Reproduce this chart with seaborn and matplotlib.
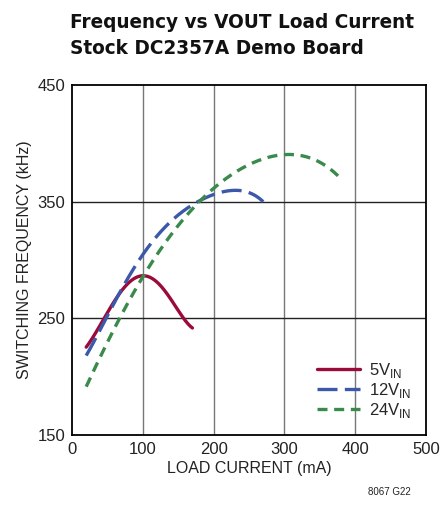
import numpy as np
import pandas as pd
import matplotlib
matplotlib.use("Agg")
import matplotlib.pyplot as plt
import seaborn as sns

# data
i_5v = [20, 40, 60, 80, 100, 110, 120, 130, 140, 150, 160, 170]
f_5v = [225, 245, 264, 280, 287, 286, 281, 273, 265, 257, 249, 241]

i_12v = [20, 50, 75, 100, 125, 150, 175, 200, 225, 250, 270]
f_12v = [218, 252, 280, 305, 324, 338, 349, 356, 360, 357, 350]

i_24v = [20, 50, 75, 100, 125, 150, 175, 200, 225, 250, 275, 300, 325, 350, 380]
f_24v = [192, 228, 258, 287, 310, 330, 346, 360, 372, 382, 389, 391, 389, 382, 370]

x_ticks = [0, 100, 200, 300, 400, 500]
y_ticks = [150, 250, 350, 450]

sns.set_theme(style="white")
plt.rcParams['font.family'] = ['Liberation Sans', 'DejaVu Sans']


def smooth(x, y, n=200):
    # 平滑曲線 (只影響線條外觀)
    x = np.asarray(x, float)
    y = np.asarray(y, float)
    c = np.polyfit(x, y, min(5, len(x) - 1))
    xs = np.linspace(x[0], x[-1], n)
    return xs, np.polyval(c, xs)


fig = plt.figure(figsize=(4.42, 5.08), dpi=100)
ax = fig.add_axes([0.163, 0.144, 0.801, 0.689])

series = [
    (i_5v, f_5v, '5V$_{\\mathregular{IN}}$', '#9a0b3c', None),
    (i_12v, f_12v, '12V$_{\\mathregular{IN}}$', '#3b59a8', (6, 2.2)),
    (i_24v, f_24v, '24V$_{\\mathregular{IN}}$', '#3a8a4c', (3, 2)),
]
for x, y, lab, col, dash in series:
    xs, ys = smooth(x, y)
    df = pd.DataFrame({'x': xs, 'y': ys})
    sns.lineplot(data=df, x='x', y='y', ax=ax, color=col, lw=2.4, label=lab)
    if dash is not None:
        ax.lines[-1].set_dashes(dash)

ax.set_xlim(0, 500)
ax.set_ylim(150, 450)
ax.set_xticks(x_ticks)
ax.set_yticks(y_ticks)
for v in [100, 200, 300, 400]:
    ax.axvline(v, color='#777777', lw=1.0, zorder=0)
for v in [250, 350]:
    ax.axhline(v, color='#222222', lw=1.0, zorder=0)
for s in ax.spines.values():
    s.set_color('black')
    s.set_linewidth(1.3)
ax.tick_params(axis='both', labelsize=12, length=0, pad=5, colors='#222222')
ax.set_xlabel('LOAD CURRENT (mA)', fontsize=11.5, color='#222222', labelpad=3)
ax.set_ylabel('SWITCHING FREQUENCY (kHz)', fontsize=11.5, color='#222222', labelpad=4)

ax.legend(loc='lower right', frameon=False, fontsize=12, handlelength=2.6,
          handletextpad=0.5, labelspacing=0.05, bbox_to_anchor=(1.0, 0.0))

# 標題: 字級縮到參考圖的寬度 (約 345 px)
title_kw = dict(fontweight='bold', family=['DejaVu Sans'], va='center', color='#111111')
t1 = fig.text(0.158, 0.955, 'Frequency vs VOUT Load Current', fontsize=20, **title_kw)
t2 = fig.text(0.158, 0.904, 'Stock DC2357A Demo Board', fontsize=20, **title_kw)
fig.canvas.draw()
r = fig.canvas.get_renderer()
w1 = t1.get_window_extent(r).width
size = min(20, 20 * 345 / w1)
t1.set_fontsize(size)
t2.set_fontsize(size)

fig.text(0.93, 0.025, '8067 G22', fontsize=7, ha='right', color='#222222')

fig.savefig('out.png', dpi=100)
